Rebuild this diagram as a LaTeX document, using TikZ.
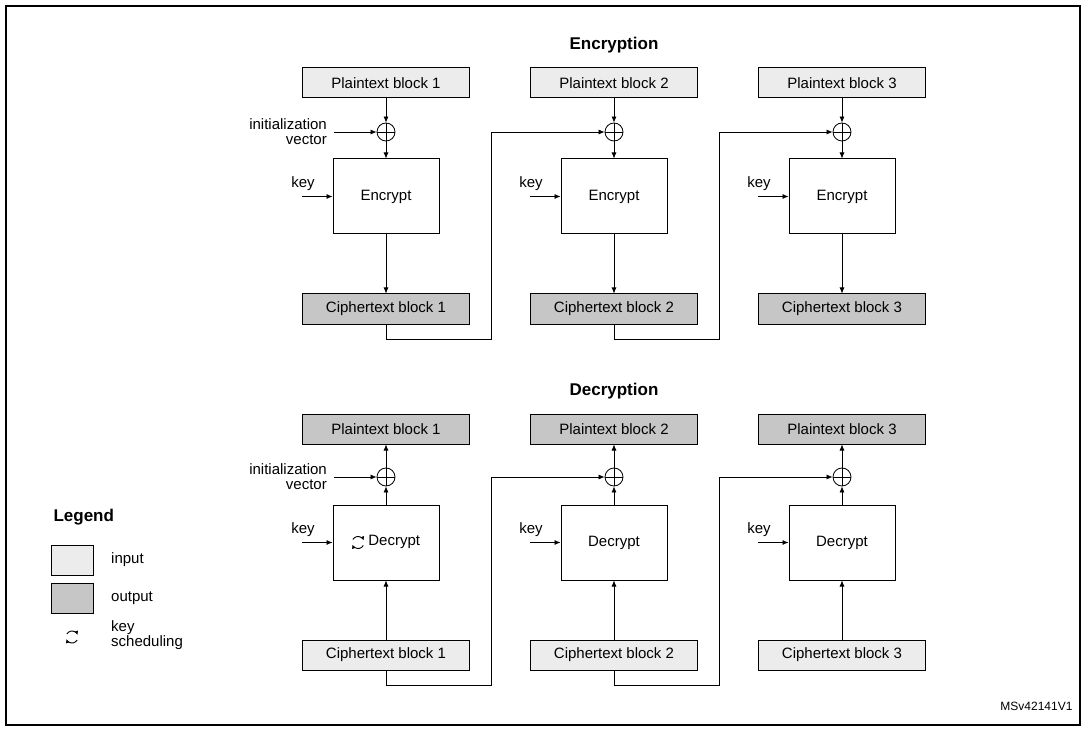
\documentclass[tikz,border=0pt]{standalone}
\usepackage{fontspec}
\setmainfont{Liberation Sans}
\usetikzlibrary{arrows.meta,calc,positioning}

\tikzset{
  flow/.style={-{Latex[length=6pt,width=5pt]}, line width=0.7pt},
  blockbox/.style={draw, line width=1pt, minimum width=167pt, minimum height=30pt, inner sep=0pt},
  inbox/.style={blockbox, fill=gray!15},
  outbox/.style={blockbox, fill=gray!45},
  cryptbox/.style={draw, line width=1pt, fill=white, minimum width=106pt, minimum height=75pt},
  xorsym/.style={draw, circle, line width=0.8pt, minimum size=18pt, inner sep=0pt,
    path picture={\draw[line width=0.8pt] (path picture bounding box.north) -- (path picture bounding box.south)
      (path picture bounding box.west) -- (path picture bounding box.east);}},
  lbl/.style={font=\fontsize{15}{15}\selectfont, inner sep=1pt},
  heading/.style={font=\fontsize{17}{17}\selectfont\bfseries}
}
\newcommand{\keyicon}{\tikz[baseline=-3pt, line width=0.9pt]{
  \draw[-{Latex[length=4pt,width=4pt]}] (150:6pt) arc (150:20:6pt);
  \draw[-{Latex[length=4pt,width=4pt]}] (-30:6pt) arc (-30:-160:6pt);}}

\begin{document}
\begin{tikzpicture}[x=1pt, y=-1pt, font=\fontsize{15}{17}\selectfont]
  \draw[line width=1.2pt] (6,6) rectangle (1080,725);
  \useasboundingbox (0,0) rectangle (1085,730);

  % encryption
  \node[heading] (enc) at (614,45) {Encryption};
  \foreach \i/\x in {1/386,2/614,3/842} {
    \node[inbox] (p\i) at (\x,83) {Plaintext block \i};
    \node[xorsym] (x\i) at (\x,132) {};
    \node[cryptbox] (e\i) at (\x,196.5) {Encrypt};
    \node[outbox] (c\i) at (\x,309) {Ciphertext block \i};
    \coordinate (k\i) at (\x-84,196.5);
    \node[lbl, anchor=south] at (\x-83,192) {key};
    \draw[flow] (p\i) -- (x\i);
    \draw[flow] (x\i) -- (e\i);
    \draw[flow] (e\i) -- (c\i);
    \draw[flow] (k\i) -- (e\i.west);
  }
  \coordinate (iv) at (334,132);
  \node[lbl, align=right, anchor=east, font=\fontsize{15}{15}\selectfont] at (328,132) {initialization\\vector};
  \draw[flow] (iv) -- (x1.west);
  \draw[flow] (c1.south) -- ++(0,15) -| ([xshift=-113pt]x2.west) -- (x2.west);
  \draw[flow] (c2.south) -- ++(0,15) -| ([xshift=-113pt]x3.west) -- (x3.west);

  % decryption
  \node[heading] (dec) at (614,391) {Decryption};
  \foreach \i/\x in {1/386,2/614,3/842} {
    \node[outbox] (dp\i) at (\x,429) {Plaintext block \i};
    \node[xorsym] (dx\i) at (\x,477) {};
    \node[inbox] (dc\i) at (\x,655) {Ciphertext block \i};
    \coordinate (dk\i) at (\x-84,542.5);
    \node[lbl, anchor=south] at (\x-83,538) {key};
    \draw[flow] (dx\i) -- (dp\i);
  }
  \node[cryptbox] (d1) at (386,542.5) {\keyicon\ Decrypt};
  \node[cryptbox] (d2) at (614,542.5) {Decrypt};
  \node[cryptbox] (d3) at (842,542.5) {Decrypt};
  \foreach \i in {1,2,3} {
    \draw[flow] (dc\i) -- (d\i);
    \draw[flow] (d\i) -- (dx\i);
    \draw[flow] (dk\i) -- (d\i.west);
  }
  \coordinate (div) at (334,477);
  \node[lbl, align=right, anchor=east, font=\fontsize{15}{15}\selectfont] at (328,477) {initialization\\vector};
  \draw[flow] (div) -- (dx1.west);
  \draw[flow] (dc1.south) -- ++(0,15) -| ([xshift=-113pt]dx2.west) -- (dx2.west);
  \draw[flow] (dc2.south) -- ++(0,15) -| ([xshift=-113pt]dx3.west) -- (dx3.west);

  % legend
  \node[heading, anchor=west] (leg) at (50,517) {Legend};
  \node[draw, line width=1pt, fill=gray!15, minimum width=42pt, minimum height=30pt] (lin) at (72,560) {};
  \node[draw, line width=1pt, fill=gray!45, minimum width=42pt, minimum height=30pt] (lout) at (72,598) {};
  \node[lbl, anchor=west] at (110,560) {input};
  \node[lbl, anchor=west] at (110,598) {output};
  \node (lkey) at (72,637) {\keyicon};
  \node[lbl, anchor=west, align=left, font=\fontsize{15}{15}\selectfont] at (110,635) {key\\scheduling};

  \node[anchor=east, font=\fontsize{12}{12}\selectfont] (ref) at (1076,706) {MSv42141V1};
\end{tikzpicture}
\end{document}
